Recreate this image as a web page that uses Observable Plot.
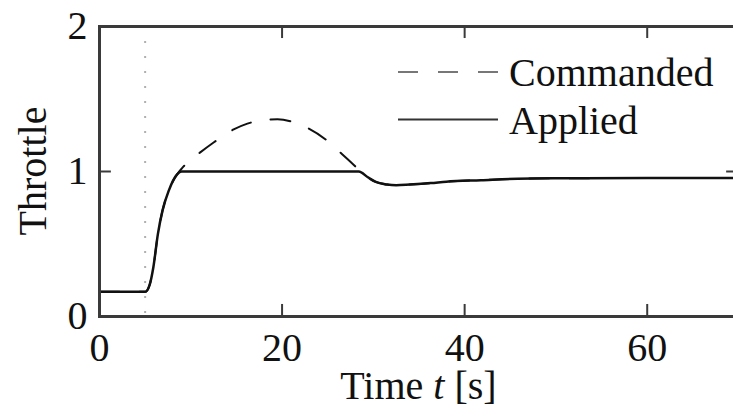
<!DOCTYPE html>
<html>
<head>
<meta charset="utf-8">
<script src="https://cdn.jsdelivr.net/npm/d3@7"></script>
<script src="https://cdn.jsdelivr.net/npm/@observablehq/plot@0.6"></script>
<style>
  html, body { margin: 0; padding: 0; background: #fff; overflow: hidden; }
  #chart { position: relative; width: 733px; height: 409px; overflow: hidden; }
  #chart svg { max-width: none !important; }
</style>
</head>
<body>
<div id="chart"></div>
<script>
// Time samples [s]
const time = [0, 5, 5.5, 5.9, 6.4, 6.9, 7.6, 8.5, 9.0, 10, 11, 12.5, 14.7, 16.2, 18, 19.5, 21, 22.8, 24.8, 26.4, 28.1, 28.4, 29.4, 30.2, 31.5, 32.5, 34, 36.3, 38, 41.8, 45.8, 50, 60, 70];
// Commanded throttle (dashed)
const commanded = [0.17, 0.17, 0.22, 0.34, 0.57, 0.73, 0.87, 0.98, 1.02, 1.08, 1.13, 1.20, 1.29, 1.33, 1.355, 1.36, 1.345, 1.30, 1.22, 1.13, 1.03, 1.01, 0.96, 0.93, 0.91, 0.905, 0.91, 0.92, 0.93, 0.94, 0.95, 0.953, 0.955, 0.955];
// Applied throttle (solid)
const applied = [0.17, 0.17, 0.22, 0.34, 0.57, 0.73, 0.87, 0.98, 1.0, 1.0, 1.0, 1.0, 1.0, 1.0, 1.0, 1.0, 1.0, 1.0, 1.0, 1.0, 1.0, 1.0, 0.96, 0.93, 0.91, 0.905, 0.91, 0.92, 0.93, 0.94, 0.95, 0.953, 0.955, 0.955];
const eventTime = [5];
const xTicks = [0, 20, 40, 60];
const yTicks = [0, 1, 2];
const seriesNames = ["Commanded", "Applied"];

const cmdData = time.map((t, i) => ({t, v: commanded[i]}));
const appData = time.map((t, i) => ({t, v: applied[i]}));

const ink = "#111";
const plot = Plot.plot({
  width: 745,
  height: 409,
  marginLeft: 99,
  marginRight: 7,
  marginTop: 26,
  marginBottom: 93,
  x: {domain: [0, 70]},
  y: {domain: [0, 2]},
  style: {fontFamily: "'Liberation Serif', 'DejaVu Serif', serif", fontSize: "40px", color: ink, background: "#fff", overflow: "visible", maxWidth: "none"},
  marks: [
    Plot.ruleX(eventTime, {stroke: "#b0b0b0", strokeWidth: 2, strokeDasharray: "2,13"}),
    Plot.line(cmdData, {x: "t", y: "v", stroke: ink, strokeWidth: 2, strokeDasharray: "20,20", curve: "monotone-x"}),
    Plot.line(appData, {x: "t", y: "v", stroke: ink, strokeWidth: 2.5, curve: "monotone-x"}),
    Plot.frame({stroke: "#3a3a3a", strokeWidth: 3}),
    Plot.ruleX(xTicks.slice(1), {y1: 0, y2: 0.083, stroke: "#3a3a3a", strokeWidth: 2}),
    Plot.ruleX(xTicks.slice(1), {y1: 2, y2: 1.917, stroke: "#3a3a3a", strokeWidth: 2}),
    Plot.ruleY([1], {x1: 0, x2: 1.3, stroke: "#3a3a3a", strokeWidth: 2}),
    Plot.ruleY([1], {x1: 68.7, x2: 70, stroke: "#3a3a3a", strokeWidth: 2}),
    Plot.axisX({ticks: xTicks, tickSize: 0, tickPadding: 16, label: null, tickFormat: d3.format("d")}),
    Plot.axisY({ticks: yTicks, tickSize: 0, tickPadding: 12, label: null, tickFormat: d3.format("d")})
  ]
});
plot.style.maxWidth = "none";
document.getElementById("chart").appendChild(plot);

const svg = d3.select(plot);
const xs = plot.scale("x"), ys = plot.scale("y");
const cx = (xs.range[0] + xs.range[1]) / 2;
const cy = (ys.range[0] + ys.range[1]) / 2;

// x axis title
const xt = svg.append("text")
  .attr("x", cx).attr("y", 399)
  .attr("text-anchor", "middle")
  .attr("fill", ink)
  .style("font-size", "40px");
xt.append("tspan").text("Time ");
xt.append("tspan").attr("font-style", "italic").text("t");
xt.append("tspan").text(" [s]");

// y axis title
svg.append("text")
  .attr("transform", `translate(32,${cy}) rotate(-90)`)
  .attr("text-anchor", "middle")
  .attr("dy", "0.35em")
  .attr("fill", ink)
  .style("font-size", "40px")
  .text("Throttle");

// legend
const lg = svg.append("g").attr("text-anchor", "start");
const rows = [{y: 72, dash: "20,20", w: 2}, {y: 119.5, dash: null, w: 2}];
rows.forEach((r, i) => {
  lg.append("line")
    .attr("x1", 398).attr("x2", 498).attr("y1", r.y).attr("y2", r.y)
    .attr("stroke", i === 0 ? "#777" : "#333").attr("stroke-width", r.w)
    .attr("stroke-dasharray", r.dash);
  lg.append("text")
    .attr("x", 509).attr("y", r.y).attr("dy", "0.35em")
    .attr("text-anchor", "start")
    .attr("fill", ink).style("font-size", "40px")
    .text(seriesNames[i]);
});
</script>
</body>
</html>
